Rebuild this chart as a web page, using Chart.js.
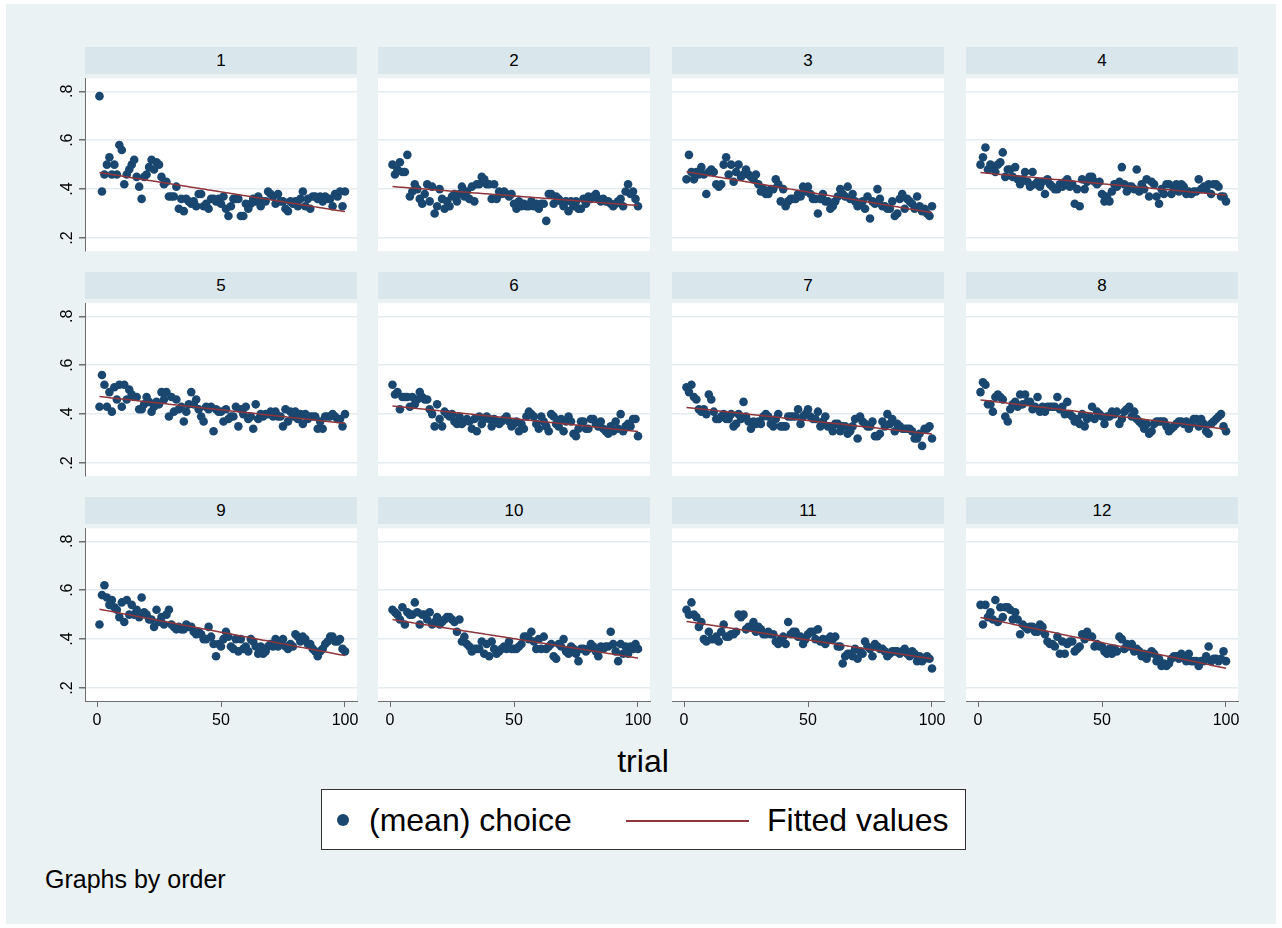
<!DOCTYPE html>
<html>
<head>
<meta charset="utf-8">
<title>choice by trial, graphs by order</title>
<script src="https://cdn.jsdelivr.net/npm/chart.js@4.4.1/dist/chart.umd.min.js"></script>
<style>
  html, body { margin: 0; padding: 0; background: #fff; }
  body { width: 1282px; height: 928px; position: relative; overflow: hidden;
         font-family: "Liberation Sans", Arial, Helvetica, sans-serif; color: #000; }
  #graph { position: absolute; left: 6px; top: 4px; width: 1270px; height: 920px; background: #eaf2f3; }
  .strip { position: absolute; height: 27px; line-height: 27px; background: #d9e6eb;
           text-align: center; font-size: 17px; }
  .panel { position: absolute; }
  #xtitle { position: absolute; left: 0; width: 1286px; top: 743px; text-align: center; font-size: 32px; }
  #legend { position: absolute; left: 321px; top: 789px; width: 643px; height: 59px;
            background: #fff; border: 1px solid #333; }
  #legend .dot { position: absolute; left: 15px; top: 24px; width: 12px; height: 12px;
                 border-radius: 50%; background: #1a476f; }
  #legend .line { position: absolute; left: 304px; top: 30px; width: 123px; height: 2px; background: #90353b; }
  #legend .lab { position: absolute; top: 11px; font-size: 32px; line-height: 38px; }
  #note { position: absolute; left: 45px; top: 865px; font-size: 25px; }
</style>
</head>
<body>
<div id="graph"></div>
<div id="panels"></div>
<div id="xtitle">trial</div>
<div id="legend">
  <div class="dot"></div><div class="lab" style="left:47px">(mean) choice</div>
  <div class="line"></div><div class="lab" style="left:445px">Fitted values</div>
</div>
<div id="note">Graphs by order</div>

<script>
// panel labels (value of "order")
const orders = ['1', '2', '3', '4', '5', '6', '7', '8', '9', '10', '11', '12'];

// axis ticks
const xTicks = [0, 50, 100];
const yTicks = [0.2, 0.4, 0.6, 0.8];

// (mean) choice per trial 1..100, one array per order
const choice1 = [0.78,0.39,0.46,0.50,0.53,0.46,0.50,0.46,0.58,0.56, 0.42,0.46,0.48,0.50,0.52,0.45,0.41,0.36,0.45,0.46,
  0.49,0.52,0.48,0.51,0.50,0.45,0.42,0.43,0.37,0.37, 0.37,0.41,0.32,0.36,0.31,0.36,0.35,0.34,0.35,0.33,
  0.38,0.38,0.33,0.34,0.32,0.36,0.36,0.35,0.36,0.34, 0.37,0.32,0.29,0.33,0.36,0.36,0.36,0.29,0.29,0.34,
  0.32,0.34,0.36,0.35,0.37,0.33,0.35,0.35,0.39,0.38, 0.37,0.34,0.38,0.35,0.35,0.32,0.31,0.35,0.34,0.35,
  0.33,0.36,0.39,0.33,0.36,0.32,0.37,0.37,0.36,0.37, 0.35,0.37,0.36,0.36,0.33,0.38,0.37,0.39,0.33,0.39];
const choice2 = [0.50,0.46,0.48,0.51,0.47,0.47,0.54,0.37,0.39,0.42, 0.40,0.36,0.34,0.38,0.42,0.35,0.41,0.30,0.33,0.40,
  0.36,0.32,0.35,0.33,0.37,0.38,0.35,0.38,0.41,0.37, 0.39,0.36,0.41,0.35,0.42,0.42,0.45,0.44,0.42,0.42,
  0.36,0.42,0.36,0.39,0.38,0.39,0.38,0.37,0.38,0.34, 0.32,0.35,0.33,0.34,0.33,0.33,0.35,0.33,0.34,0.32,
  0.34,0.34,0.27,0.38,0.38,0.34,0.37,0.36,0.35,0.33, 0.35,0.31,0.35,0.33,0.35,0.32,0.32,0.36,0.34,0.37,
  0.36,0.37,0.38,0.36,0.35,0.36,0.35,0.35,0.34,0.33, 0.34,0.35,0.36,0.33,0.39,0.42,0.38,0.39,0.36,0.33];
const choice3 = [0.44,0.54,0.47,0.44,0.47,0.46,0.49,0.46,0.38,0.47, 0.48,0.47,0.42,0.41,0.42,0.50,0.53,0.46,0.50,0.43,
  0.47,0.50,0.45,0.46,0.48,0.46,0.45,0.44,0.46,0.42, 0.39,0.40,0.38,0.38,0.40,0.40,0.44,0.42,0.35,0.40,
  0.33,0.35,0.36,0.36,0.36,0.38,0.37,0.41,0.39,0.41, 0.38,0.36,0.36,0.30,0.36,0.38,0.35,0.35,0.32,0.33,
  0.35,0.37,0.40,0.38,0.37,0.41,0.36,0.38,0.35,0.33, 0.34,0.35,0.32,0.37,0.28,0.35,0.34,0.40,0.36,0.33,
  0.33,0.32,0.32,0.35,0.29,0.30,0.36,0.38,0.32,0.36, 0.35,0.34,0.32,0.37,0.33,0.31,0.32,0.30,0.29,0.33];
const choice4 = [0.50,0.53,0.57,0.48,0.50,0.49,0.47,0.50,0.51,0.55, 0.45,0.48,0.48,0.45,0.49,0.44,0.42,0.44,0.47,0.43,
  0.41,0.47,0.42,0.43,0.41,0.43,0.38,0.44,0.42,0.41, 0.40,0.40,0.42,0.41,0.43,0.44,0.41,0.42,0.34,0.40,
  0.33,0.44,0.40,0.43,0.45,0.45,0.43,0.42,0.43,0.38, 0.35,0.37,0.35,0.39,0.42,0.41,0.43,0.49,0.42,0.39,
  0.41,0.41,0.40,0.48,0.39,0.42,0.40,0.44,0.37,0.43, 0.42,0.37,0.34,0.40,0.38,0.42,0.42,0.38,0.40,0.42,
  0.39,0.42,0.41,0.38,0.39,0.38,0.39,0.39,0.44,0.40, 0.41,0.40,0.42,0.38,0.42,0.42,0.41,0.37,0.37,0.35];
const choice5 = [0.43,0.56,0.52,0.43,0.49,0.41,0.51,0.46,0.52,0.43, 0.52,0.46,0.50,0.48,0.47,0.47,0.42,0.42,0.44,0.47,
  0.45,0.41,0.43,0.45,0.44,0.49,0.46,0.49,0.39,0.47, 0.41,0.46,0.42,0.43,0.37,0.41,0.44,0.49,0.44,0.46,
  0.42,0.39,0.37,0.43,0.42,0.43,0.33,0.42,0.41,0.41, 0.37,0.42,0.38,0.39,0.39,0.43,0.35,0.42,0.40,0.43,
  0.38,0.39,0.34,0.44,0.38,0.40,0.39,0.40,0.40,0.41, 0.39,0.41,0.39,0.39,0.35,0.42,0.37,0.41,0.39,0.41,
  0.38,0.40,0.36,0.40,0.38,0.39,0.39,0.39,0.34,0.37, 0.34,0.39,0.39,0.39,0.40,0.39,0.38,0.38,0.35,0.40];
const choice6 = [0.52,0.48,0.49,0.42,0.47,0.47,0.47,0.43,0.47,0.44, 0.46,0.49,0.47,0.46,0.46,0.42,0.40,0.35,0.44,0.38,
  0.35,0.41,0.40,0.39,0.40,0.37,0.36,0.39,0.36,0.37, 0.38,0.37,0.34,0.38,0.33,0.39,0.36,0.38,0.39,0.38,
  0.35,0.38,0.37,0.36,0.37,0.38,0.39,0.37,0.35,0.36, 0.37,0.33,0.36,0.34,0.39,0.41,0.40,0.39,0.36,0.34,
  0.39,0.37,0.35,0.33,0.40,0.39,0.36,0.35,0.38,0.33, 0.37,0.39,0.37,0.32,0.31,0.34,0.37,0.37,0.34,0.34,
  0.38,0.38,0.36,0.35,0.37,0.34,0.33,0.32,0.35,0.33, 0.37,0.34,0.40,0.33,0.35,0.36,0.35,0.38,0.38,0.31];
const choice7 = [0.51,0.49,0.52,0.47,0.46,0.42,0.41,0.42,0.40,0.48, 0.46,0.41,0.38,0.38,0.39,0.40,0.38,0.38,0.40,0.35,
  0.36,0.40,0.38,0.45,0.39,0.37,0.34,0.37,0.36,0.37, 0.36,0.39,0.40,0.39,0.36,0.35,0.38,0.40,0.35,0.35,
  0.35,0.39,0.39,0.39,0.39,0.42,0.36,0.39,0.40,0.42, 0.39,0.38,0.38,0.41,0.35,0.37,0.39,0.35,0.35,0.33,
  0.36,0.36,0.33,0.35,0.35,0.32,0.33,0.35,0.38,0.30, 0.39,0.37,0.36,0.35,0.35,0.37,0.31,0.31,0.32,0.37,
  0.35,0.40,0.36,0.38,0.33,0.36,0.35,0.34,0.34,0.34, 0.34,0.33,0.30,0.30,0.32,0.27,0.34,0.34,0.35,0.30];
const choice8 = [0.49,0.53,0.52,0.44,0.44,0.41,0.47,0.48,0.47,0.46, 0.39,0.37,0.42,0.44,0.45,0.43,0.48,0.44,0.48,0.45,
  0.45,0.42,0.43,0.47,0.41,0.43,0.41,0.43,0.43,0.43, 0.43,0.47,0.42,0.43,0.40,0.45,0.40,0.39,0.37,0.38,
  0.36,0.40,0.35,0.38,0.39,0.43,0.38,0.41,0.40,0.39, 0.36,0.39,0.39,0.41,0.40,0.41,0.36,0.38,0.41,0.42,
  0.43,0.39,0.41,0.38,0.37,0.36,0.34,0.36,0.32,0.33, 0.36,0.37,0.37,0.37,0.37,0.35,0.33,0.34,0.35,0.36,
  0.37,0.37,0.36,0.37,0.34,0.36,0.38,0.38,0.35,0.38, 0.36,0.33,0.32,0.36,0.37,0.38,0.39,0.40,0.35,0.33];
const choice9 = [0.46,0.58,0.62,0.57,0.54,0.56,0.53,0.52,0.49,0.55, 0.47,0.56,0.50,0.54,0.50,0.52,0.49,0.57,0.51,0.50,
  0.48,0.48,0.45,0.52,0.47,0.49,0.46,0.50,0.52,0.46, 0.45,0.44,0.45,0.44,0.44,0.46,0.45,0.45,0.43,0.42,
  0.43,0.42,0.40,0.40,0.45,0.41,0.38,0.33,0.38,0.37, 0.40,0.43,0.41,0.37,0.36,0.40,0.35,0.40,0.36,0.37,
  0.35,0.40,0.39,0.37,0.34,0.37,0.34,0.35,0.37,0.38, 0.37,0.40,0.37,0.38,0.40,0.37,0.36,0.38,0.37,0.42,
  0.41,0.39,0.41,0.40,0.38,0.38,0.36,0.35,0.33,0.35, 0.36,0.38,0.39,0.41,0.41,0.39,0.39,0.40,0.36,0.35];
const choice10 = [0.52,0.51,0.50,0.48,0.53,0.46,0.51,0.50,0.50,0.55, 0.51,0.46,0.50,0.50,0.48,0.51,0.46,0.47,0.49,0.46,
  0.47,0.48,0.49,0.49,0.48,0.47,0.43,0.48,0.39,0.41, 0.38,0.37,0.35,0.36,0.36,0.36,0.39,0.34,0.38,0.33,
  0.39,0.36,0.34,0.35,0.36,0.37,0.36,0.39,0.36,0.36, 0.36,0.37,0.38,0.41,0.41,0.40,0.43,0.39,0.36,0.40,
  0.36,0.41,0.36,0.37,0.38,0.33,0.32,0.38,0.37,0.40, 0.35,0.34,0.37,0.36,0.34,0.31,0.36,0.36,0.35,0.36,
  0.38,0.37,0.35,0.33,0.37,0.36,0.37,0.37,0.43,0.38, 0.35,0.31,0.38,0.34,0.37,0.34,0.37,0.36,0.38,0.36];
const choice11 = [0.52,0.50,0.55,0.50,0.49,0.45,0.47,0.40,0.39,0.43, 0.40,0.40,0.41,0.39,0.43,0.46,0.41,0.41,0.42,0.42,
  0.43,0.50,0.49,0.50,0.44,0.45,0.45,0.47,0.43,0.45, 0.44,0.42,0.42,0.43,0.42,0.42,0.39,0.38,0.40,0.41,
  0.38,0.47,0.42,0.43,0.43,0.41,0.41,0.38,0.40,0.42, 0.43,0.43,0.40,0.44,0.39,0.40,0.38,0.40,0.41,0.40,
  0.41,0.37,0.37,0.30,0.33,0.34,0.34,0.33,0.36,0.32, 0.35,0.34,0.39,0.37,0.36,0.33,0.38,0.37,0.36,0.36,
  0.35,0.33,0.34,0.35,0.35,0.35,0.34,0.35,0.36,0.34, 0.33,0.35,0.34,0.31,0.33,0.31,0.32,0.33,0.32,0.28];
const choice12 = [0.54,0.46,0.54,0.49,0.51,0.48,0.56,0.47,0.53,0.49, 0.53,0.53,0.52,0.48,0.51,0.48,0.42,0.46,0.45,0.44,
  0.45,0.45,0.43,0.43,0.46,0.45,0.42,0.39,0.38,0.38, 0.37,0.41,0.34,0.39,0.34,0.38,0.39,0.39,0.35,0.36,
  0.37,0.42,0.40,0.43,0.41,0.41,0.37,0.38,0.37,0.37, 0.35,0.34,0.36,0.34,0.36,0.35,0.41,0.40,0.36,0.38,
  0.37,0.38,0.35,0.36,0.35,0.33,0.34,0.32,0.34,0.35, 0.34,0.31,0.32,0.29,0.30,0.29,0.30,0.32,0.33,0.33,
  0.32,0.34,0.33,0.31,0.34,0.31,0.31,0.31,0.29,0.31, 0.31,0.33,0.37,0.31,0.32,0.32,0.31,0.32,0.35,0.31];

const choices = [choice1, choice2, choice3, choice4, choice5, choice6,
                 choice7, choice8, choice9, choice10, choice11, choice12];

// trial number is just the position in each series
const trials = choice1.map((_, i) => i + 1);

// colours (s2color: navy markers, maroon fit)
const NAVY = '#1a476f';
const MAROON = '#90353b';
const GRID = '#e4ecef';
const AXIS = '#6e6e6e';

// layout of the 4 x 3 grid of plot regions
const plotLeft = [85, 378, 672, 966];
const plotTop = [74, 299, 524];
const PW = 272, PH = 177;
const PADL = 50, PADR = 20, PADB = 40;

// least-squares line through one panel
function fitted(ys) {
  const n = ys.length;
  let sx = 0, sy = 0, sxx = 0, sxy = 0;
  for (let i = 0; i < n; i++) {
    const x = trials[i];
    sx += x; sy += ys[i]; sxx += x * x; sxy += x * ys[i];
  }
  const b = (n * sxy - sx * sy) / (n * sxx - sx * sx);
  const a = (sy - b * sx) / n;
  return trials.map(x => ({ x: x, y: a + b * x }));
}

const plotBg = {
  id: 'plotBg',
  beforeDraw(chart) {
    const { ctx, chartArea: a } = chart;
    ctx.save();
    ctx.fillStyle = '#fff';
    ctx.fillRect(a.left, a.top, a.right - a.left, a.bottom - a.top);
    ctx.restore();
  }
};

// vertical tick labels on the left axis, as Stata draws them
const yLabels = {
  id: 'yLabels',
  afterDraw(chart, args, opts) {
    if (!opts.show) return;
    const { ctx } = chart;
    const sy = chart.scales.y;
    ctx.save();
    ctx.fillStyle = '#000';
    ctx.font = '16px "Liberation Sans", Arial, sans-serif';
    ctx.textAlign = 'center';
    ctx.textBaseline = 'middle';
    yTicks.forEach(v => {
      const py = sy.getPixelForValue(v);
      ctx.save();
      ctx.translate(chart.chartArea.left - 17, py);
      ctx.rotate(-Math.PI / 2);
      ctx.fillText(String(v).replace(/^0/, ''), 0, 0);
      ctx.restore();
    });
    ctx.restore();
  }
};

const panels = document.getElementById('panels');

choices.forEach((ys, k) => {
  const r = Math.floor(k / 4), c = k % 4;
  const left = plotLeft[c], top = plotTop[r];

  const strip = document.createElement('div');
  strip.className = 'strip';
  strip.style.left = left + 'px';
  strip.style.top = (top - 27) + 'px';
  strip.style.width = PW + 'px';
  strip.textContent = orders[k];
  panels.appendChild(strip);

  const box = document.createElement('div');
  box.className = 'panel';
  box.style.left = (left - PADL) + 'px';
  box.style.top = top + 'px';
  const cv = document.createElement('canvas');
  cv.width = PW + PADL + PADR;
  cv.height = PH + PADB;
  box.appendChild(cv);
  panels.appendChild(box);

  const firstCol = c === 0, lastRow = r === 2;

  new Chart(cv.getContext('2d'), {
    type: 'scatter',
    data: {
      datasets: [
        {
          type: 'line',
          label: 'Fitted values',
          data: fitted(ys),
          borderColor: MAROON,
          borderWidth: 1.5,
          pointRadius: 0,
          fill: false,
          order: 0
        },
        {
          label: '(mean) choice',
          data: trials.map((t, i) => ({ x: t, y: ys[i] })),
          backgroundColor: NAVY,
          borderWidth: 0,
          pointRadius: 4.3,
          order: 1
        }
      ]
    },
    options: {
      responsive: false,
      animation: false,
      layout: { padding: { left: 0, right: PADR, top: 0, bottom: 0 } },
      plugins: {
        legend: { display: false },
        tooltip: { enabled: false },
        yLabels: { show: firstCol }
      },
      scales: {
        x: {
          type: 'linear',
          min: -4.84,
          max: 104.84,
          afterBuildTicks: s => { s.ticks = xTicks.map(v => ({ value: v })); },
          afterFit: s => { s.height = PADB; },
          ticks: {
            display: lastRow,
            color: '#000',
            padding: 4,
            maxRotation: 0,
            font: { family: '"Liberation Sans", Arial, sans-serif', size: 16 }
          },
          grid: { drawOnChartArea: false, drawTicks: lastRow, tickLength: 6, tickColor: AXIS },
          border: { display: lastRow, color: AXIS, width: 1 }
        },
        y: {
          type: 'linear',
          min: 0.147,
          max: 0.853,
          afterBuildTicks: s => { s.ticks = yTicks.map(v => ({ value: v })); },
          afterFit: s => { s.width = PADL; },
          ticks: { display: false },
          grid: { color: GRID, lineWidth: 1.5, drawTicks: firstCol, tickLength: 6, tickColor: AXIS },
          border: { display: firstCol, color: AXIS, width: 1 }
        }
      }
    },
    plugins: [plotBg, yLabels]
  });
});
</script>
</body>
</html>
